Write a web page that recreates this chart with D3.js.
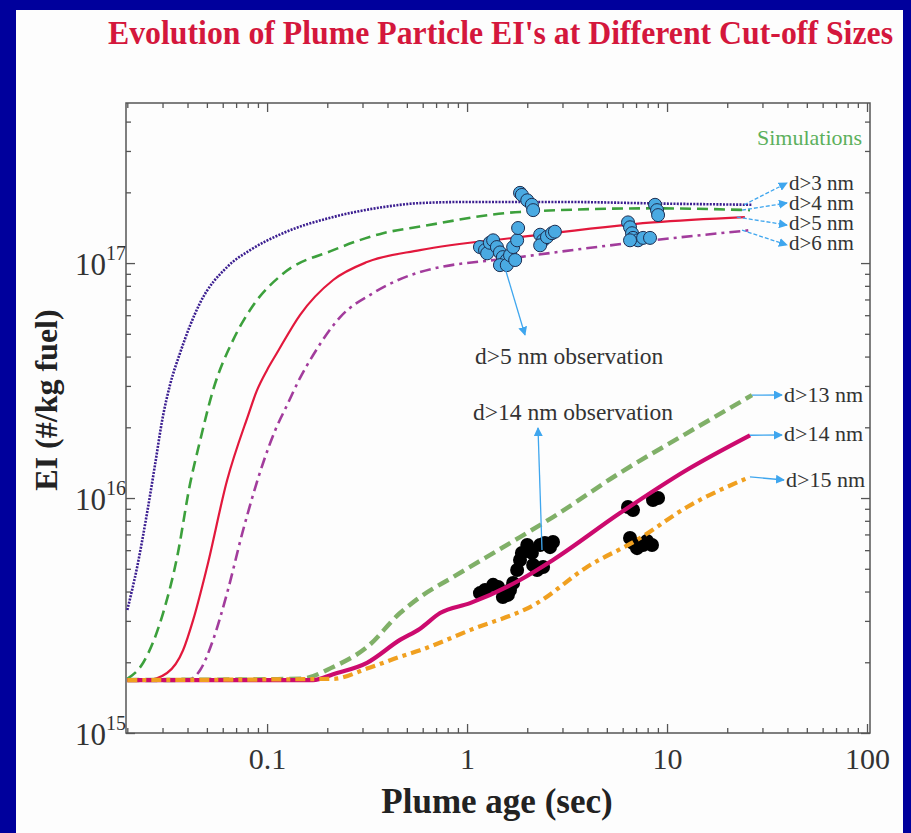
<!DOCTYPE html>
<html>
<head>
<meta charset="utf-8">
<script src="https://cdn.jsdelivr.net/npm/d3@7"></script>
<style>
  body { margin: 0; background: #00009c; }
  svg { display: block; }
  text { font-family: "Liberation Serif", "Times New Roman", serif; }
</style>
</head>
<body>
<svg id="chart" width="911" height="833"></svg>
<script>
// simulated EI curves: [plume age (s), EI (#/kg fuel)]
const simD3 = [[0.0200,3.34e15],[0.0224,5.09e15],[0.0251,8.63e15],[0.0275,1.38e16],[0.0299,2.15e16],[0.0327,3.03e16],[0.0367,4.14e16],[0.0462,6.76e16],[0.0631,9.62e16],[0.0822,1.135e17],[0.120,1.34e17],[0.214,1.57e17],[0.380,1.73e17],[0.582,1.80e17],[1.0,1.82e17],[3.0,1.82e17],[10,1.79e17],[26.6,1.77e17]];
const simD4 = [[0.0200,1.70e15],[0.0240,1.99e15],[0.0302,3.24e15],[0.0355,5.61e15],[0.0412,1.15e16],[0.0462,1.75e16],[0.0537,2.88e16],[0.0676,4.70e16],[0.0851,6.6e16],[0.120,9.0e16],[0.214,1.135e17],[0.380,1.34e17],[0.582,1.43e17],[1.84,1.65e17],[8.51,1.71e17],[26.0,1.68e17]];
const simD5 = [[0.0200,1.68e15],[0.0251,1.68e15],[0.0316,1.80e15],[0.0380,2.25e15],[0.0427,3.03e15],[0.0501,5.09e15],[0.0631,1.19e16],[0.0804,2.25e16],[0.0891,2.88e16],[0.100,3.51e16],[0.112,4.14e16],[0.146,6.01e16],[0.214,8.47e16],[0.316,1.01e17],[0.582,1.135e17],[1.84,1.29e17],[8.51,1.49e17],[24.5,1.57e17]];
const simD6 = [[0.0200,1.68e15],[0.0398,1.68e15],[0.0462,1.85e15],[0.0537,2.49e15],[0.0631,3.94e15],[0.0759,7.31e15],[0.0955,1.41e16],[0.110,1.95e16],[0.126,2.49e16],[0.146,3.24e16],[0.170,4.06e16],[0.232,5.89e16],[0.339,7.45e16],[0.582,9.16e16],[1.84,1.06e17],[8.51,1.25e17],[26.0,1.38e17]];
const simD13 = [[0.0200,1.68e15],[0.146,1.70e15],[0.214,1.91e15],[0.316,2.32e15],[0.462,3.24e15],[0.582,3.79e15],[0.851,4.61e15],[1.84,6.82e15],[2.69,8.30e15],[5.82,1.28e16],[12.6,1.89e16],[26.6,2.74e16]];
const simD14 = [[0.0200,1.68e15],[0.170,1.68e15],[0.214,1.78e15],[0.316,1.99e15],[0.462,2.49e15],[0.582,2.78e15],[0.733,3.24e15],[1.035,3.57e15],[1.84,4.48e15],[2.69,5.45e15],[5.82,8.63e15],[12.6,1.32e16],[26.0,1.85e16]];
const simD15 = [[0.0200,1.68e15],[0.214,1.70e15],[0.316,1.88e15],[0.462,2.11e15],[0.582,2.25e15],[1.035,2.74e15],[2.24,3.57e15],[3.98,5.09e15],[7.08,6.63e15],[12.6,9.16e15],[26.0,1.23e16]];

// observations
const obsD5 = [[1.84,1.99e17],[1.88,1.95e17],[2.00,1.85e17],[2.11,1.77e17],[2.14,1.68e17],
  [1.16,1.17e17],[1.23,1.135e17],[1.26,1.10e17],[1.30,1.22e17],[1.35,1.25e17],[1.41,1.17e17],[1.46,1.11e17],[1.51,1.06e17],[1.58,1.03e17],[1.46,9.8e16],[1.58,9.8e16],[1.64,1.08e17],[1.70,1.17e17],[1.78,1.25e17],[1.80,1.41e17],[1.74,1.03e17],
  [2.32,1.32e17],[2.40,1.25e17],[2.32,1.19e17],[2.51,1.29e17],[2.66,1.34e17],[2.75,1.36e17],
  [6.38,1.49e17],[6.53,1.42e17],[6.68,1.34e17],[6.76,1.28e17],[7.16,1.25e17],[7.59,1.28e17],[8.22,1.28e17],[6.53,1.25e17],[8.71,1.77e17],[8.91,1.68e17],[9.02,1.60e17]];
const obsD14 = [[1.16,3.94e15],[1.23,4.06e15],[1.35,4.27e15],[1.43,4.18e15],[1.51,3.79e15],[1.60,3.87e15],[1.64,4.06e15],[1.70,4.35e15],[1.78,4.94e15],[1.84,5.45e15],[1.88,5.84e15],[2.00,6.31e15],[2.11,5.84e15],[2.14,5.19e15],[2.24,4.94e15],[2.40,5.09e15],[2.32,6.31e15],[2.45,6.44e15],[2.60,6.18e15],[2.69,6.50e15],
  [6.38,9.16e15],[6.76,8.9e15],[8.51,9.8e15],[9.02,1.0e16],[6.53,6.76e15],[6.76,6.44e15],[7.08,6.12e15],[7.59,6.31e15],[7.94,6.56e15],[8.41,6.31e15]];

const xTickValues = [0.1, 1, 10, 100];
const yTickValues = [1e15, 1e16, 1e17];
const seriesNames = ["d>3 nm", "d>4 nm", "d>5 nm", "d>6 nm", "d>13 nm", "d>14 nm", "d>15 nm"];

const svg = d3.select("#chart");
const frame = {left: 126, right: 870, top: 103, bottom: 733};

svg.append("rect").attr("x", 16).attr("y", 10).attr("width", 887).attr("height", 823).attr("fill", "#fdfdfd");

const xScale = d3.scaleLog().domain([0.0197, 103.5]).range([frame.left, frame.right]);
const yScale = d3.scaleLog().domain([1e15, 4.8e17]).range([frame.bottom, frame.top]);

function minorTicks(scale) {
  let out = [];
  let [a, b] = scale.domain();
  for (let dec = Math.pow(10, Math.floor(Math.log10(a))); dec < b; dec *= 10) {
    for (let k = 2; k <= 9; k++) {
      let v = k * dec;
      if (v >= a && v <= b) out.push(v);
    }
  }
  return out;
}
const xMinor = minorTicks(xScale);
const yMinor = minorTicks(yScale);

// axes ticks, pointing inward on all four sides
function addAxis(axis, tx, ty) {
  let g = svg.append("g").attr("transform", "translate(" + tx + "," + ty + ")").call(axis);
  g.select(".domain").remove();
  g.selectAll(".tick line").attr("stroke", "#555").attr("stroke-width", 1.3);
  return g;
}
const xLabels = addAxis(d3.axisBottom(xScale).tickValues(xTickValues).tickSizeInner(-9).tickSizeOuter(0).tickPadding(15).tickFormat(d => String(d)), 0, frame.bottom);
xLabels.selectAll("text").attr("font-size", 30).attr("fill", "#333").attr("font-family", "Liberation Serif, serif");
addAxis(d3.axisBottom(xScale).tickValues(xMinor).tickSize(-5).tickFormat(""), 0, frame.bottom);
addAxis(d3.axisTop(xScale).tickValues(xTickValues).tickSize(-9).tickFormat(""), 0, frame.top);
addAxis(d3.axisTop(xScale).tickValues(xMinor).tickSize(-5).tickFormat(""), 0, frame.top);
addAxis(d3.axisLeft(yScale).tickValues(yTickValues).tickSize(-9).tickFormat(""), frame.left, 0);
addAxis(d3.axisLeft(yScale).tickValues(yMinor).tickSize(-5).tickFormat(""), frame.left, 0);
addAxis(d3.axisRight(yScale).tickValues(yTickValues).tickSize(-9).tickFormat(""), frame.right, 0);
addAxis(d3.axisRight(yScale).tickValues(yMinor).tickSize(-5).tickFormat(""), frame.right, 0);

svg.append("rect")
  .attr("x", frame.left).attr("y", frame.top)
  .attr("width", frame.right - frame.left).attr("height", frame.bottom - frame.top)
  .attr("fill", "none").attr("stroke", "#555").attr("stroke-width", 1.5);

// y tick labels as 10^n
yTickValues.forEach(v => {
  let t = svg.append("text")
    .attr("x", frame.left).attr("y", yScale(v) + 12)
    .attr("text-anchor", "end").attr("fill", "#333").attr("font-size", 31);
  t.append("tspan").text("10");
  t.append("tspan").attr("dy", -15).attr("font-size", 20).text(Math.round(Math.log10(v)));
});

// axis titles
svg.append("text")
  .attr("transform", "translate(57,400) rotate(-90)")
  .attr("text-anchor", "middle").attr("font-weight", "bold").attr("font-size", 32).attr("fill", "#222")
  .text("EI (#/kg fuel)");
svg.append("text")
  .attr("x", 497).attr("y", 813)
  .attr("text-anchor", "middle").attr("font-weight", "bold").attr("font-size", 35).attr("fill", "#222")
  .text("Plume age (sec)");

svg.append("text")
  .attr("transform", "translate(108,44) scale(1,1.1)")
  .attr("font-weight", "bold").attr("font-size", 31).attr("fill", "#d4173c")
  .attr("textLength", 785).attr("lengthAdjust", "spacingAndGlyphs")
  .text("Evolution of Plume Particle EI's at Different Cut-off Sizes");

const line = d3.line()
  .x(d => xScale(d[0]))
  .y(d => yScale(d[1]))
  .curve(d3.curveMonotoneX);

const upperSeries = [
  {data: simD3, color: "#3b1e90", width: 2.6, dash: "2,1.3"},
  {data: simD4, color: "#3ca03c", width: 2.6, dash: "11,6"},
  {data: simD5, color: "#e2183c", width: 2.2, dash: null},
  {data: simD6, color: "#a23c9c", width: 2.6, dash: "11,5,3,5"}
];
const lowerSeries = [
  {data: simD13, color: "#80b068", width: 4.5, dash: "12,6"},
  {data: simD14, color: "#cc0a6e", width: 4.2, dash: null},
  {data: simD15, color: "#f0a020", width: 4.2, dash: "10,5,4,5"}
];

function drawSeries(list) {
  list.forEach(s => {
    svg.append("path")
      .attr("d", line(s.data))
      .attr("fill", "none")
      .attr("stroke", s.color)
      .attr("stroke-width", s.width)
      .attr("stroke-dasharray", s.dash);
  });
}

drawSeries(upperSeries);

svg.append("g").selectAll("circle")
  .data(obsD5)
  .enter().append("circle")
  .attr("cx", d => xScale(d[0])).attr("cy", d => yScale(d[1]))
  .attr("r", 6.5).attr("fill", "#4aaae2").attr("stroke", "#1d2d50").attr("stroke-width", 1);

svg.append("g").selectAll("circle")
  .data(obsD14)
  .enter().append("circle")
  .attr("cx", d => xScale(d[0])).attr("cy", d => yScale(d[1]))
  .attr("r", 7).attr("fill", "#000");

drawSeries(lowerSeries);

// annotations
const arrowColor = "#3fa6ee";
svg.append("defs").append("marker")
  .attr("id", "head").attr("viewBox", "0 0 10 10").attr("refX", 9).attr("refY", 5)
  .attr("markerWidth", 9).attr("markerHeight", 9).attr("markerUnits", "userSpaceOnUse")
  .attr("orient", "auto")
  .append("path").attr("d", "M0,0L10,5L0,10z").attr("fill", arrowColor);

function arrow(x1, y1, x2, y2, dash) {
  svg.append("line")
    .attr("x1", x1).attr("y1", y1).attr("x2", x2).attr("y2", y2)
    .attr("stroke", arrowColor).attr("stroke-width", 1.3)
    .attr("stroke-dasharray", dash)
    .attr("marker-end", "url(#head)");
}

function label(txt, x, y, color, size) {
  svg.append("text").attr("x", x).attr("y", y)
    .attr("fill", color || "#333").attr("font-size", size || 22)
    .text(txt);
}

const allSeries = upperSeries.concat(lowerSeries);
const labelTargets = [[787, 183], [787, 203], [787, 225], [787, 245], [782, 395], [782, 435], [784, 480]];
const labelBaselines = [190, 210, 230, 250, 402, 441, 487];
allSeries.forEach((s, i) => {
  let last = s.data[s.data.length - 1];
  let x0 = xScale(last[0]), y0 = yScale(last[1]);
  let [tx, ty] = labelTargets[i];
  arrow(x0 - (i < 4 ? 8 : 0), y0, tx, ty, i < 4 ? "4,2" : null);
  label(seriesNames[i], tx + 2, labelBaselines[i], null, i < 4 ? 21 : 22);
});

label("Simulations", 757, 145, "#5cb05c", 22);

arrow(505, 268, 525, 335, null);
label("d>5 nm observation", 475, 364, null, 23.5);
arrow(542, 550, 538, 428, null);
label("d>14 nm observation", 473, 420, null, 23.5);
</script>
</body>
</html>
